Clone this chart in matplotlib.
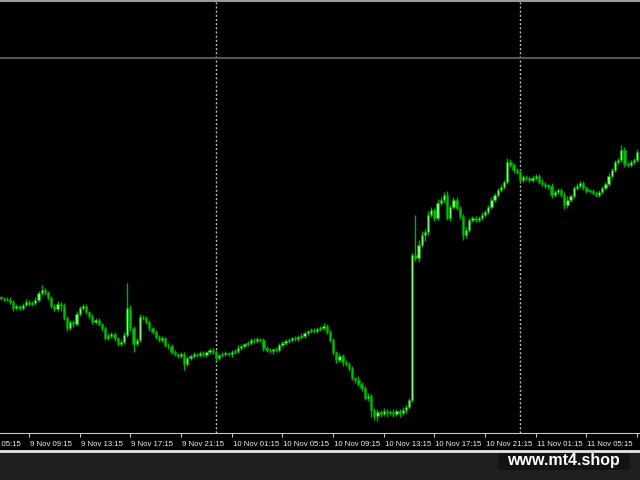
import matplotlib
matplotlib.use("Agg")
import matplotlib.pyplot as plt
from matplotlib.patches import Rectangle, FancyBboxPatch
from matplotlib.lines import Line2D

# M15 closes, 9 Nov 07:00 -> 11 Nov 09:15 (arbitrary price units)
closes = [152, 151, 150, 148, 142, 144, 142, 145, 148, 146,
          147, 150, 157, 160, 158, 152, 144, 141, 146, 144,
          132, 122, 128, 126, 136, 142, 144, 138, 134, 128,
          130, 126, 122, 112, 114, 116, 112, 106, 108, 115,
          142, 122, 106, 110, 133, 132, 128, 122, 118, 113,
          110, 112, 105, 104, 98, 96, 94, 96, 86, 92,
          94, 96, 95, 97, 95, 98, 100, 98, 92, 95,
          96, 97, 96, 98, 99, 102, 104, 106, 107, 110,
          109, 111, 110, 102, 100, 99, 101, 100, 105, 107,
          109, 110, 112, 111, 113, 114, 117, 119, 120, 119,
          121, 122, 124, 118, 110, 98, 90, 94, 88, 86,
          82, 72, 70, 66, 62, 52, 54, 40, 34, 38,
          36, 39, 37, 38, 36, 39, 37, 40, 43, 50,
          195, 192, 205, 215, 218, 235, 240, 232, 247, 250,
          255, 232, 243, 250, 242, 234, 215, 220, 230, 232,
          230, 232, 235, 238, 243, 250, 255, 260, 263, 268,
          288, 285, 280, 278, 270, 273, 272, 270, 272, 274,
          268, 266, 264, 264, 255, 258, 260, 255, 245, 250,
          254, 262, 264, 267, 262, 259, 259, 257, 255, 258,
          262, 266, 274, 280, 288, 290, 300, 286, 285, 288,
          290, 298]
first_open = 152

wick_up = [2, 1, 2, 3, 2, 2, 1, 2, 3, 2,
           2, 3, 2, 5, 2, 1, 2, 2, 3, 2,
           3, 2, 2, 2, 3, 2, 2, 2, 1, 2,
           2, 2, 1, 2, 3, 2, 2, 1, 2, 3,
           25, 3, 2, 2, 3, 2, 2, 2, 1, 2,
           2, 2, 1, 2, 2, 2, 1, 2, 2, 2,
           2, 2, 1, 2, 2, 1, 2, 2, 2, 1,
           2, 2, 1, 2, 2, 3, 2, 1, 2, 2,
           2, 2, 1, 2, 2, 2, 1, 2, 2, 2,
           2, 2, 1, 2, 2, 3, 2, 1, 2, 2,
           2, 2, 3, 2, 2, 2, 1, 3, 2, 2,
           2, 2, 1, 4, 2, 2, 3, 2, 2, 3,
           2, 3, 2, 2, 3, 2, 2, 3, 2, 2,
           2, 40, 5, 4, 3, 4, 3, 2, 4, 3,
           3, 4, 2, 3, 3, 2, 2, 3, 2, 2,
           2, 2, 3, 2, 2, 3, 2, 2, 3, 2,
           4, 3, 2, 2, 3, 2, 2, 2, 3, 2,
           2, 3, 2, 2, 3, 2, 2, 2, 3, 4,
           2, 2, 3, 2, 2, 2, 1, 2, 2, 2,
           2, 2, 3, 2, 2, 2, 5, 3, 2, 2,
           2, 3]

wick_dn = [2, 2, 1, 2, 3, 2, 2, 2, 1, 2,
           2, 2, 2, 2, 3, 2, 2, 2, 2, 5,
           2, 3, 2, 3, 2, 2, 2, 2, 3, 2,
           2, 2, 3, 2, 2, 2, 3, 2, 2, 2,
           2, 3, 8, 2, 2, 2, 2, 3, 2, 2,
           2, 2, 2, 3, 2, 2, 2, 2, 6, 2,
           2, 2, 2, 2, 2, 2, 2, 2, 3, 2,
           2, 2, 2, 3, 2, 2, 2, 2, 2, 2,
           2, 2, 2, 3, 2, 2, 3, 2, 2, 2,
           2, 2, 2, 2, 2, 2, 2, 2, 2, 2,
           2, 2, 2, 2, 2, 3, 3, 2, 4, 2,
           3, 2, 3, 2, 3, 2, 3, 7, 4, 5,
           3, 2, 4, 2, 3, 2, 4, 2, 3, 2,
           2, 3, 4, 2, 6, 3, 2, 3, 2, 2,
           3, 2, 3, 2, 2, 3, 5, 3, 2, 2,
           2, 2, 2, 2, 2, 2, 2, 2, 2, 2,
           2, 2, 3, 2, 2, 2, 2, 2, 2, 2,
           2, 2, 2, 3, 3, 2, 2, 2, 4, 3,
           2, 2, 2, 2, 2, 2, 2, 2, 2, 2,
           2, 2, 2, 2, 2, 2, 2, 3, 2, 2,
           2, 2]

tick_bars = [-7, 9, 25, 41, 57, 73, 89, 105, 121, 137, 153, 169, 185, 201]
tick_labels = ["9 Nov 05:15", "9 Nov 09:15", "9 Nov 13:15", "9 Nov 17:15",
               "9 Nov 21:15", "10 Nov 01:15", "10 Nov 05:15", "10 Nov 09:15",
               "10 Nov 13:15", "10 Nov 17:15", "10 Nov 21:15", "11 Nov 01:15",
               "11 Nov 05:15", ""]
day_breaks = [68, 164]
level = 392

opens = [first_open] + closes[:-1]
highs = [max(o, c) + u for o, c, u in zip(opens, closes, wick_up)]
lows = [min(o, c) - d for o, c, d in zip(opens, closes, wick_dn)]
idx = list(range(len(closes)))

fig = plt.figure(figsize=(6.4, 4.8), dpi=100, facecolor="black")
ax = fig.add_axes([0, 1 - 433 / 480, 1, 431 / 480], facecolor="black")

# wicks and bodies
ax.vlines(idx, lows, highs, color="#00b000", linewidth=1.0, zorder=3)
up = [c >= o for o, c in zip(opens, closes)]
bottoms = [min(o, c) for o, c in zip(opens, closes)]
heights = [max(abs(c - o), 1.0) for o, c in zip(opens, closes)]
colors = ["#78f86a" if u else "#00c000" for u in up]
ax.bar(idx, heights, bottom=bottoms, width=0.72, color=colors,
       edgecolor="#009a00", linewidth=0.4, zorder=4)

ax.axhline(level, color="#4f565e", linewidth=1.5, zorder=2)
for b in day_breaks:
    ax.axvline(b, color="#b8b8b8", linestyle=(0, (1.5, 1.5)), linewidth=1, zorder=1)

ax.set_xlim(-0.158, 201.92)
ax.set_ylim(17, 448)
ax.set_yticks([])
for s in ["top", "left", "right"]:
    ax.spines[s].set_visible(False)
ax.spines["bottom"].set_color("#c8c8c8")
ax.spines["bottom"].set_linewidth(0.8)
ax.set_xticks([t for t in tick_bars if t >= 0])
ax.set_xticklabels([])
ax.tick_params(axis="x", colors="#c8c8c8", length=3, width=0.8, direction="out")

for t, lab in zip(tick_bars, tick_labels):
    ax.text(t + 0.3, -0.018, lab, transform=ax.get_xaxis_transform(),
            ha="left", va="top", color="#f0f0f0", fontsize=5.6,
            family="Liberation Sans", clip_on=False)

# lower panel, frame lines, watermark
fig.patches.append(Rectangle((0, 0), 1, 29 / 480, transform=fig.transFigure,
                             facecolor="#1f1f1f", edgecolor="none", zorder=0))
fig.lines.append(Line2D([0, 1], [29 / 480, 29 / 480], transform=fig.transFigure,
                        color="#e6e6e6", linewidth=2))
fig.lines.append(Line2D([0, 1], [479 / 480, 479 / 480], transform=fig.transFigure,
                        color="#9a9a9a", linewidth=1.5))
fig.patches.append(FancyBboxPatch((498 / 640, 10 / 480), 132 / 640, 18 / 480,
                                  boxstyle="round,pad=0,rounding_size=0.006",
                                  transform=fig.transFigure,
                                  facecolor="#131313", edgecolor="none", zorder=1))
fig.text(563 / 640, 20 / 480, "www.mt4.shop", color="white", fontsize=11.5,
         fontweight="bold", family="Liberation Sans", ha="center", va="center")

fig.savefig("out.png", dpi=100, facecolor=fig.get_facecolor())
